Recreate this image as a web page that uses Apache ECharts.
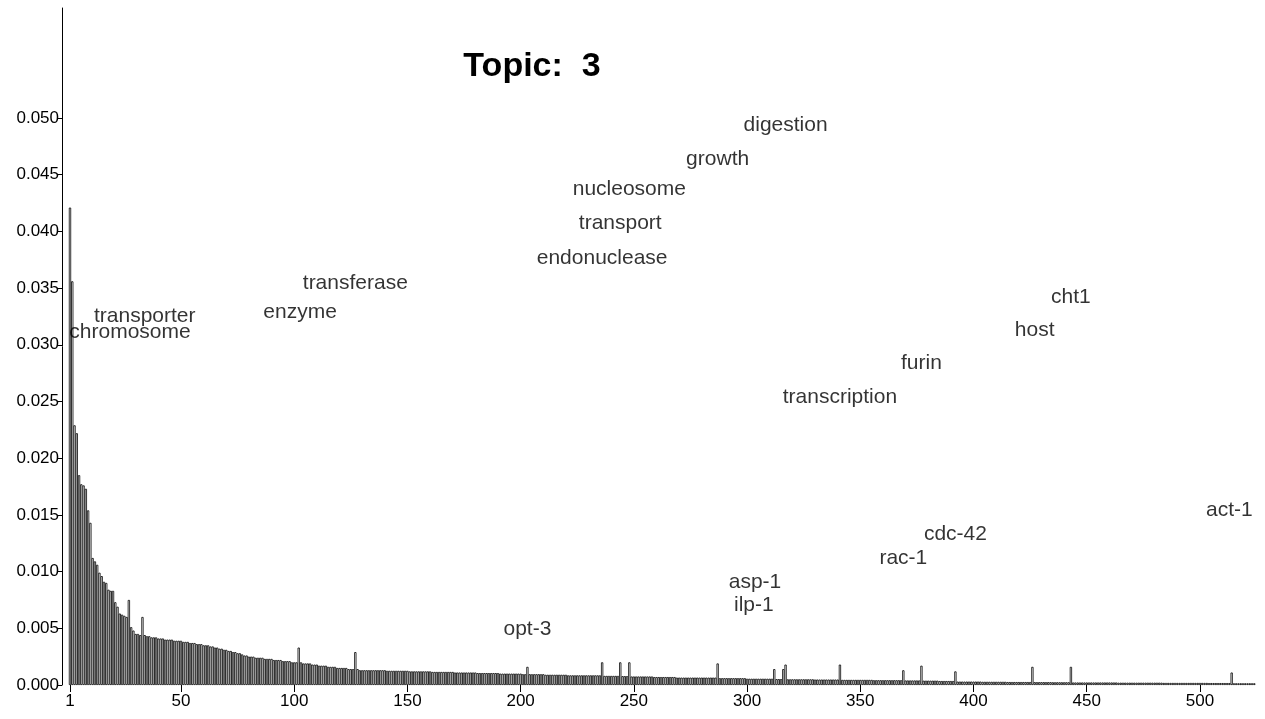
<!DOCTYPE html>
<html><head><meta charset="utf-8">
<script src="https://cdn.jsdelivr.net/npm/echarts@6/dist/echarts.min.js"></script>
<style>html,body{margin:0;padding:0;background:#fff}#c{width:1265px;height:719px}</style>
</head><body><div id="c"></div>
<script>
// bar heights in units of 1e-5, head explicit (ranks 1..130)
const headE5 = [4210,3560,2290,2220,1850,1770,1760,1730,1540,1430,
 1120,1090,1060,990,960,910,900,840,830,830,
 730,690,630,620,610,600,750,510,480,450,
 450,440,600,440,430,430,420,420,420,410,
 410,410,400,400,400,400,390,390,390,390,
 380,380,380,370,370,370,360,360,360,350,
 350,350,340,340,330,330,320,320,310,310,
 300,300,290,290,280,280,270,260,260,250,
 250,250,240,240,240,240,230,230,230,230,
 220,220,220,220,210,210,210,210,200,200,
 200,330,200,190,190,190,190,180,180,180,
 170,170,170,170,160,160,160,160,150,150,
 150,150,150,140,140,140,290,140,130,130];
// tail (ranks 131..524) as [value, run length]
const tailRunsE5 = [[130,10],[125,10],[120,10],[115,10],[110,10],[105,10],[100,10],
 [95,2],[160,1],[95,7],[90,10],[85,15],[200,1],[80,7],[200,1],[78,3],[200,1],
 [75,10],[70,10],[65,18],[190,1],[60,12],[55,12],[140,1],[52,3],[140,1],[180,1],
 [50,12],[48,11],[180,1],[45,14],[42,13],[130,1],[40,7],[170,1],[38,7],[35,7],[120,1],
 [30,11],[28,11],[26,11],[160,1],[25,8],[24,8],[160,1],[22,20],[20,20],[18,20],[17,10],
 [110,1],[15,10]];
const words = [
 ['chromosome',27.5,0.0311],['transporter',34,0.0325],['enzyme',102.6,0.0329],
 ['transferase',127,0.0354],['opt-3',203,0.0049],['endonuclease',236,0.0376],
 ['transport',244,0.0407],['nucleosome',248,0.0437],['growth',287,0.0464],
 ['digestion',317,0.0494],['transcription',341,0.0254],['furin',377,0.0284],
 ['host',427,0.0313],['cht1',443,0.0342],['act-1',513,0.0154],['cdc-42',392,0.0133],
 ['rac-1',369,0.0112],['asp-1',303.5,0.0091],['ilp-1',303,0.007]];
const xTicks = [1,50,100,150,200,250,300,350,400,450,500];
const yTicks = [0,0.005,0.01,0.015,0.02,0.025,0.03,0.035,0.04,0.045,0.05];

const vals = headE5.slice();
tailRunsE5.forEach(([v,n])=>{for(let i=0;i<n;i++)vals.push(v);});
const barData = vals.map((v,i)=>[i+1, v/1e5]);
const F='Liberation Sans, Arial, sans-serif';
const chart = echarts.init(document.getElementById('c'));
chart.setOption({
 animation:false,
 title:{text:'Topic:  3',left:527,top:45,textAlign:'center',textStyle:{fontFamily:F,fontSize:34,fontWeight:'bold',color:'#000'}},
 grid:{left:62,right:10,top:8,bottom:34,containLabel:false,outerBoundsMode:'none'},
 xAxis:{type:'value',min:-2.53,max:524.3,axisLine:{show:false},splitLine:{show:false},
  axisTick:{show:true,customValues:xTicks,length:7,lineStyle:{color:'#000'}},
  axisLabel:{customValues:xTicks,fontFamily:F,fontSize:17,color:'#000',margin:8}},
 yAxis:{type:'value',min:0,max:0.0597,splitLine:{show:false},
  axisLine:{show:true,onZero:false,lineStyle:{color:'#000',width:1}},
  axisTick:{show:true,customValues:yTicks,length:4,lineStyle:{color:'#000'}},
  axisLabel:{customValues:yTicks,formatter:v=>v.toFixed(3),fontFamily:F,fontSize:17,color:'#000',margin:3}},
 series:[
  {type:'bar',data:barData,barWidth:2.26,itemStyle:{color:'#fff',borderColor:'#000',borderWidth:0.8}},
  {type:'scatter',symbolSize:0,data:words.map(w=>({name:w[0],value:[w[1],w[2]]})),
   label:{show:true,position:'inside',formatter:'{b}',fontFamily:F,fontSize:21,color:'#000',textBorderWidth:0}}
 ]
});
</script></body></html>
